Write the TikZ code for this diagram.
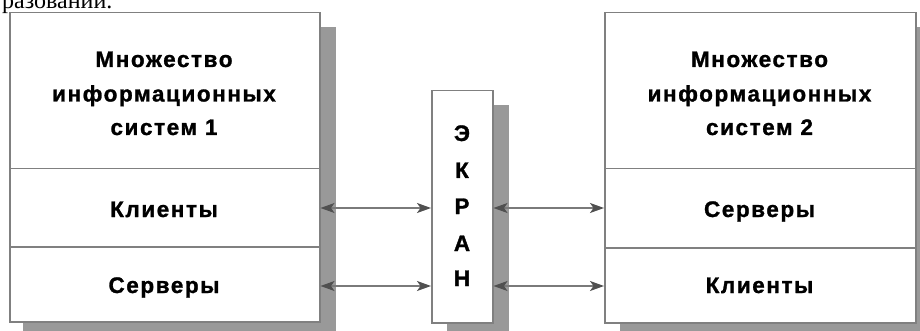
\documentclass[tikz,border=0pt]{standalone}
\usepackage{fontspec}
\setmainfont{Liberation Serif}
\newfontfamily\lab{Liberation Sans}[LetterSpace=7,BoldFeatures={FakeBold=1.2}]
\usetikzlibrary{arrows.meta}
\definecolor{shadowc}{HTML}{999999}
\definecolor{borderc}{HTML}{808080}
\definecolor{linec}{HTML}{7A7A7A}
\definecolor{headc}{HTML}{505050}
\begin{document}
\begin{tikzpicture}[x=1pt,y=-1pt,
  sect/.style={draw=borderc, line width=1.5pt, fill=white, rectangle, inner sep=0pt, anchor=north west},
  lbl/.style={font=\lab\bfseries\fontsize{22.5}{26}\selectfont, anchor=base, inner sep=0pt},
  conn/.style={draw=linec, line width=1.4pt,
    {Stealth[length=14pt,width=10pt,inset=3.5pt,color=headc]}-{Stealth[length=14pt,width=10pt,inset=3.5pt,color=headc]}},
  shad/.style={fill=shadowc}]
\clip (0,0) rectangle (920,331);
\fill[white] (0,0) rectangle (920,331);
% partial text at top (cut off by the edge, as in the reference)
\node[anchor=base west, inner sep=0pt, font=\fontsize{24}{28}\selectfont] (toptext) at (2,8.5) {разований.};
% shadows
\fill[shad] (23,27) rectangle (336,331);
\fill[shad] (447,105) rectangle (509,331);
\fill[shad] (620,27) rectangle (931,331);
% left box
\node[sect, minimum width=310pt, minimum height=156pt] (LA) at (9,12) {};
\node[sect, minimum width=310pt, minimum height=78pt] (LB) at (9,168) {};
\node[sect, minimum width=310pt, minimum height=75pt] (LC) at (9,246) {};
% right box
\node[sect, minimum width=311pt, minimum height=156pt] (RA) at (604,12) {};
\node[sect, minimum width=311pt, minimum height=79pt] (RB) at (604,168) {};
\node[sect, minimum width=311pt, minimum height=75pt] (RC) at (604,247) {};
% screen
\node[sect, minimum width=61pt, minimum height=232pt] (E) at (431,90) {};
% labels
\node[lbl] (l1) at (164,67) {Множество};
\node[lbl] (l2) at (164,101.5) {информационных};
\node[lbl] (l3) at (164,135) {систем 1};
\node[lbl] (l4) at (164,217) {Клиенты};
\node[lbl] (l5) at (164,293) {Серверы};
\node[lbl] (r1) at (759.5,67) {Множество};
\node[lbl] (r2) at (759.5,101.5) {информационных};
\node[lbl] (r3) at (759.5,135) {систем 2};
\node[lbl] (r4) at (759.5,217) {Серверы};
\node[lbl] (r5) at (759.5,293) {Клиенты};
\node[lbl] (e1) at (462,141) {Э};
\node[lbl] (e2) at (462,178) {К};
\node[lbl] (e3) at (462,214) {Р};
\node[lbl] (e4) at (462,251) {А};
\node[lbl] (e5) at (462,286) {Н};
% connectors
\coordinate (a1) at (0,208);
\coordinate (a2) at (0,286);
\draw[conn] (LB.east |- a1) -- (E.west |- a1);
\draw[conn] (LC.east |- a2) -- (E.west |- a2);
\draw[conn] (E.east |- a1) -- (RB.west |- a1);
\draw[conn] (E.east |- a2) -- (RC.west |- a2);
\end{tikzpicture}
\end{document}
